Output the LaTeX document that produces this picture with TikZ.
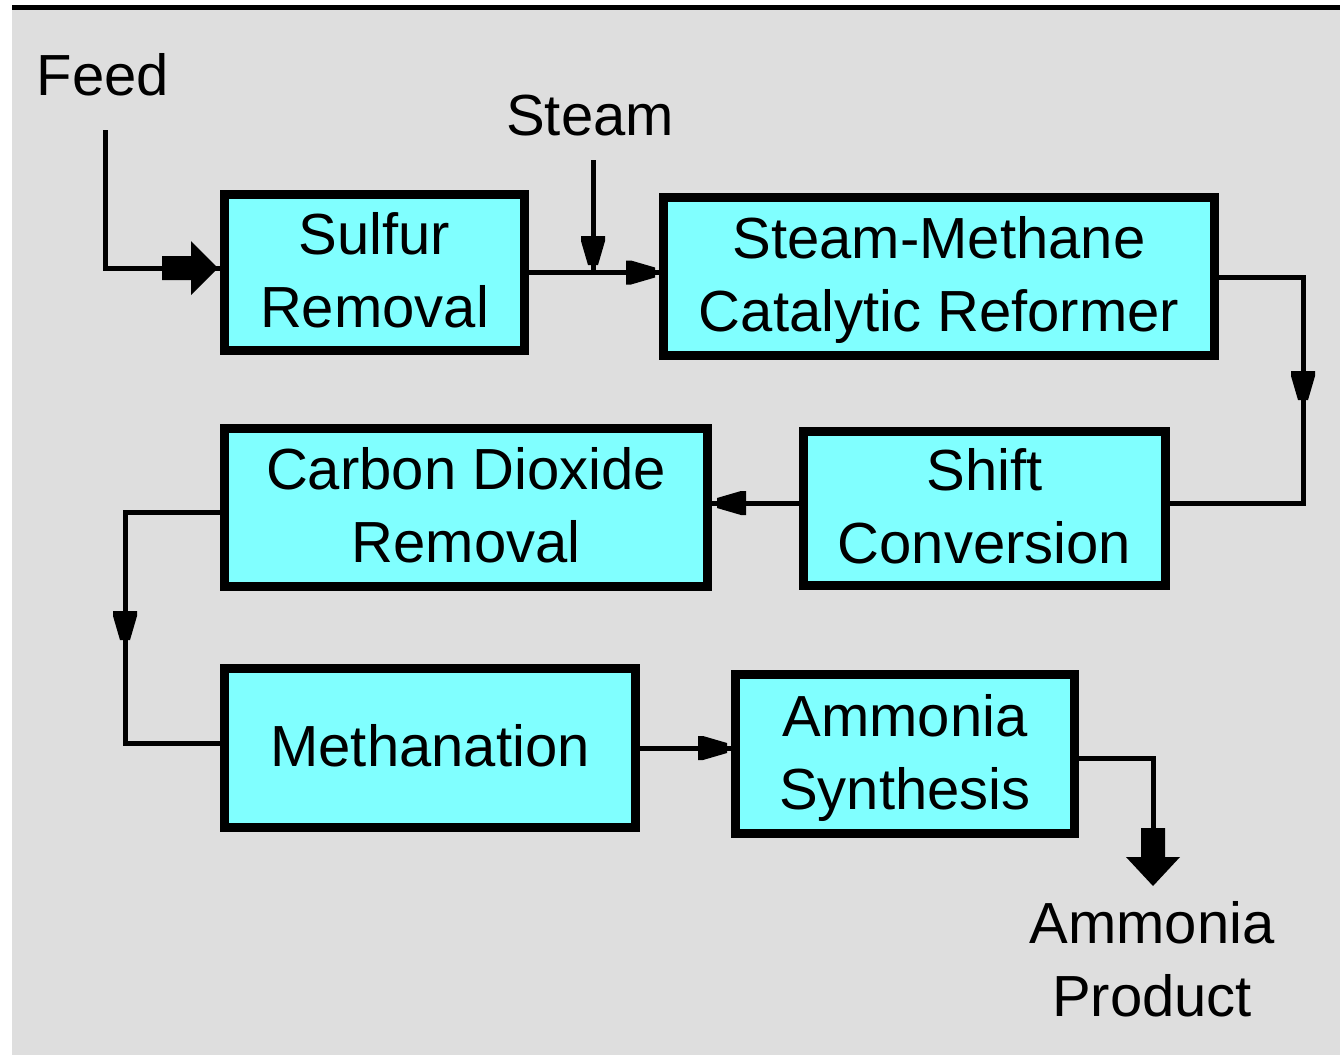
\documentclass[tikz,border=0pt]{standalone}
\usepackage{fontspec}
\setmainfont{Liberation Sans}
\definecolor{bggray}{RGB}{222,222,222}
\definecolor{boxcyan}{RGB}{128,255,255}
\newcommand\boxtext[1]{\begin{tabular}{@{}c@{}}\rule{0pt}{59pt}#1\end{tabular}}
\newcommand\plaintext[1]{\begin{tabular}{@{}c@{}}#1\end{tabular}}
\tikzset{
  procbox/.style={draw=black, line width=9pt, fill=boxcyan, inner sep=0pt,
    font=\fontsize{58}{73}\selectfont},
  lbl/.style={inner sep=0pt, font=\fontsize{58}{73}\selectfont},
  conn/.style={draw=black, line width=5pt},
  sright/.pic={\fill (0,-5) -- (0,5) -- (-24,12) -- (-29,12) -- (-29,-12) -- (-24,-12) -- cycle;},
  sleft/.pic={\fill (0,-5) -- (0,5) -- (24,12) -- (29,12) -- (29,-12) -- (24,-12) -- cycle;},
  sdown/.pic={\fill (-5,0) -- (5,0) -- (12,-24) -- (12,-29) -- (-12,-29) -- (-12,-24) -- cycle;},
  bright/.pic={\fill (0,0) -- (-27,-27) -- (-27,-12) -- (-56,-12) -- (-56,12) -- (-27,12) -- (-27,27) -- cycle;},
  bdown/.pic={\fill (0,0) -- (-27,-29) -- (-12,-29) -- (-12,-58) -- (12,-58) -- (12,-29) -- (27,-29) -- cycle;},
}
\begin{document}
\begin{tikzpicture}[x=1pt,y=-1pt]
\useasboundingbox (0,0) rectangle (1340,1055);
\fill[white] (0,0) rectangle (1340,1055);
\fill[bggray] (12,10) rectangle (1340,1055);
\fill[black] (12,5) rectangle (1340,10);

% boxes
\node[procbox, minimum width=300pt, minimum height=156pt] (s1) at (374.5,272.5) {\boxtext{Sulfur\\Removal}};
\node[procbox, minimum width=551pt, minimum height=158pt] (s2) at (939,276.5) {\boxtext{Steam-Methane\\Catalytic Reformer}};
\node[procbox, minimum width=362pt, minimum height=154pt] (sc) at (984.5,508.5) {\boxtext{Shift\\Conversion}};
\node[procbox, minimum width=483pt, minimum height=158pt] (co) at (466,507.5) {\boxtext{Carbon Dioxide\\Removal}};
\node[procbox, minimum width=411pt, minimum height=159pt] (me) at (430,748) {\boxtext{Methanation}};
\node[procbox, minimum width=339pt, minimum height=159pt] (as) at (905,754) {\boxtext{Ammonia\\Synthesis}};

% labels
\node[lbl, anchor=base] (feed) at (103,95) {Feed};
\node[lbl, anchor=base] (steam) at (590,135) {Steam};
\node[lbl] (prod) at (1152,965) {\plaintext{Ammonia\\Product}};

% feed
\coordinate (f0) at (105,130);
\coordinate (f1) at (105,268);
\draw[conn] (f0) -- (f1) -- (f1 -| s1.west);
\pic at ([xshift=-2pt]f1 -| s1.west) {bright};

% steam and sulfur -> reformer
\coordinate (st0) at (593,160);
\draw[conn] (st0) -- (st0 |- s1.east);
\pic at (593,265) {sdown};
\draw[conn] (s1.east) -- (s1.east -| s2.west);
\pic at ([xshift=-4pt]s1.east -| s2.west) {sright};

% reformer -> shift
\coordinate (b1) at (1303,277);
\coordinate (b2) at (1303,503);
\draw[conn] (s2.east |- b1) -- (b1) -- (b2) -- (sc.east |- b2);
\pic at (1303,400) {sdown};

% shift -> CO2
\draw[conn] (sc.west |- b2) -- (co.east |- b2);
\pic at ([xshift=5pt]co.east |- b2) {sleft};

% CO2 -> methanation
\coordinate (c1) at (125,512);
\coordinate (c2) at (125,743);
\draw[conn] (co.west |- c1) -- (c1) -- (c2) -- (me.west |- c2);
\pic at (125,640) {sdown};

% methanation -> ammonia synthesis
\draw[conn] (me.east) -- (me.east -| as.west);
\pic at ([xshift=-4pt]me.east -| as.west) {sright};

% ammonia synthesis -> product
\coordinate (p1) at (1153,758);
\coordinate (p2) at (1153,832);
\draw[conn] (as.east |- p1) -- (p1) -- (p2);
\pic at (1153,886) {bdown};
\end{tikzpicture}
\end{document}
